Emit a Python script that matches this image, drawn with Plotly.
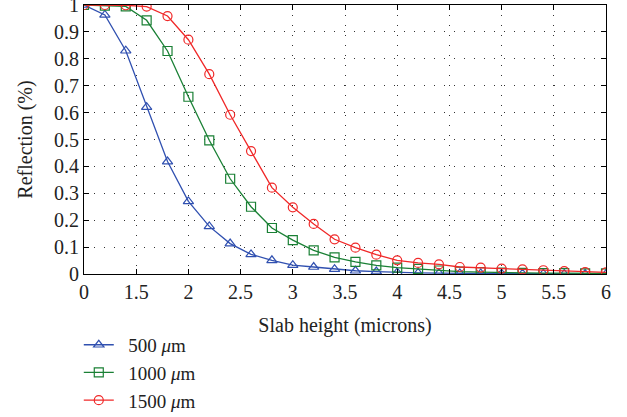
import plotly.graph_objects as go

x_vals = [1.0, 1.2, 1.4, 1.6, 1.8, 2.0, 2.2, 2.4, 2.6, 2.8, 3.0, 3.2, 3.4, 3.6, 3.8,
          4.0, 4.2, 4.4, 4.6, 4.8, 5.0, 5.2, 5.4, 5.6, 5.8, 6.0]

r_500 = [1.0, 0.963, 0.830, 0.620, 0.418, 0.270, 0.177, 0.113, 0.073, 0.051, 0.033, 0.026,
         0.018, 0.012, 0.009, 0.006, 0.004, 0.003, 0.002, 0.002, 0.001, 0.001, 0.001, 0.0, 0.0, 0.0]
r_1000 = [1.0, 0.998, 0.995, 0.943, 0.829, 0.659, 0.497, 0.354, 0.250, 0.171, 0.126, 0.088,
          0.062, 0.045, 0.032, 0.024, 0.019, 0.013, 0.009, 0.007, 0.005, 0.004, 0.003, 0.003, 0.002, 0.002]
r_1500 = [1.0, 1.0, 0.999, 0.994, 0.959, 0.871, 0.743, 0.592, 0.457, 0.321, 0.248, 0.186,
          0.129, 0.098, 0.072, 0.051, 0.041, 0.036, 0.026, 0.024, 0.020, 0.017, 0.014, 0.011, 0.007, 0.006]

series_names = ["\u00a0\u00a0500 <i>μ</i>m", "\u00a0\u00a01000 <i>μ</i>m", "\u00a0\u00a01500 <i>μ</i>m"]
series_colors = ["#3050B0", "#1A8035", "#F02828"]
series_symbols = ["triangle-up-open", "square-open", "circle-open"]

x_tickvals = [1.0, 1.5, 2.0, 2.5, 3.0, 3.5, 4.0, 4.5, 5.0, 5.5, 6.0]
x_ticktext = ["0", "1.5", "2", "2.5", "3", "3.5", "4", "4.5", "5", "5.5", "6"]
y_tickvals = [0, 0.1, 0.2, 0.3, 0.4, 0.5, 0.6, 0.7, 0.8, 0.9, 1.0]
y_ticktext = ["0", "0.1", "0.2", "0.3", "0.4", "0.5", "0.6", "0.7", "0.8", "0.9", "1"]

font_family = "Liberation Serif, Times New Roman, serif"
txt_color = "#222222"

fig = go.Figure()
for ys, name, col, sym in zip([r_500, r_1000, r_1500], series_names, series_colors, series_symbols):
    fig.add_trace(go.Scatter(
        x=x_vals, y=ys, name=name, mode="lines+markers",
        line=dict(color=col, width=1.3),
        marker=dict(symbol=sym, size=9, color=col, line=dict(width=1.2, color=col)),
    ))

axis_common = dict(
    showline=True, linecolor="black", linewidth=1.2, mirror="ticks",
    ticks="inside", ticklen=5, tickcolor="black", tickwidth=1,
    showgrid=True, gridcolor="#333333", gridwidth=1, griddash="1px,9px",
    zeroline=False, tickfont=dict(family=font_family, size=20, color=txt_color),
    ticklabeloverflow="allow", automargin=False,
)

fig.update_xaxes(range=[1.0, 6.0], tickmode="array", tickvals=x_tickvals, ticktext=x_ticktext,
                 title=dict(text="Slab height (microns)", font=dict(family=font_family, size=20, color=txt_color)),
                 **axis_common)
fig.update_yaxes(range=[0, 1.0], tickmode="array", tickvals=y_tickvals, ticktext=y_ticktext,
                 title=dict(text="Reflection (%)", font=dict(family=font_family, size=20, color=txt_color)),
                 **axis_common)

fig.update_layout(
    width=627, height=417,
    margin=dict(l=84, r=21, t=5, b=143, autoexpand=False),
    paper_bgcolor="white", plot_bgcolor="white",
    font=dict(family=font_family, size=20, color=txt_color),
    showlegend=True,
    legend=dict(x=-0.01, xanchor="left", y=-0.193, yanchor="top",
                orientation="v",
                bgcolor="rgba(0,0,0,0)", font=dict(family=font_family, size=19, color=txt_color),
                tracegroupgap=0, itemwidth=30),
)

fig.write_html("out.html", config={"displayModeBar": False},
               post_script="document.body.style.margin='0';document.body.style.padding='0';")
